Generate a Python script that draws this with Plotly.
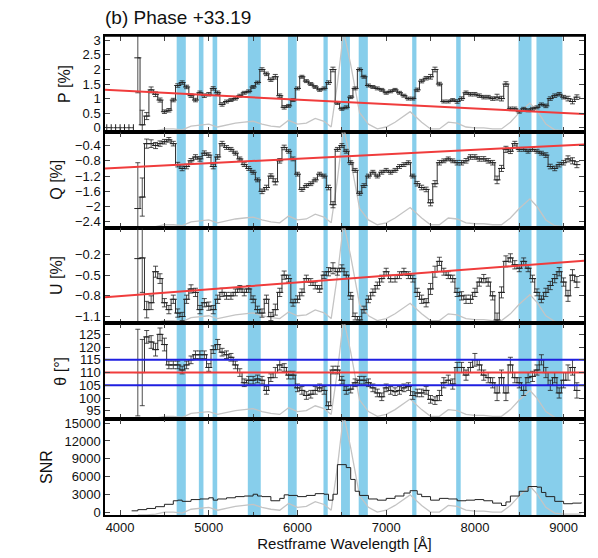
import plotly.graph_objects as go

WAVE = [4200,4250,4300,4350,4400,4450,4500,4550,4600,4650,4700,4750,4800,4850,4900,4950,
        5000,5050,5100,5150,5200,5250,5300,5350,5400,5450,5500,5550,5600,5650,5700,5750,
        5800,5850,5900,5950,6000,6050,6100,6150,6200,6250,6300,6350,6400,6450,6500,6550,
        6600,6650,6700,6750,6800,6850,6900,6950,7000,7050,7100,7150,7200,7250,7300,7350,
        7400,7450,7500,7550,7600,7650,7700,7750,7800,7850,7900,7950,8000,8050,8100,8150,
        8200,8250,8300,8350,8400,8450,8500,8550,8600,8650,8700,8750,8800,8850,8900,8950,
        9000,9050,9100,9150]
P = [2.4,0.1,0.4,1.3,1.15,0.95,0.55,0.6,0.95,1.45,1.55,1.4,1.1,0.95,1.2,1.1,
     1.15,1.35,1.2,0.8,0.9,0.95,1.0,1.1,1.2,1.25,1.4,1.55,2.0,1.85,1.65,1.75,
     1.1,0.7,0.75,0.95,1.35,1.75,1.6,1.5,1.4,1.3,1.35,1.55,2.0,0.85,0.65,0.7,
     1.05,1.35,2.0,1.75,1.45,1.4,1.35,1.3,1.2,1.25,1.3,1.2,1.1,1.0,1.0,1.3,
     1.6,1.7,1.75,2.0,1.5,0.9,0.9,0.95,0.9,1.0,1.2,1.15,1.15,1.1,1.05,1.05,
     1.0,1.05,1.0,1.5,0.65,0.65,0.55,0.65,0.6,0.65,0.7,0.8,0.75,1.0,1.1,1.15,
     1.05,1.0,0.9,1.05]
P_ZERO_WAVE = [3850,3900,3950,4000,4050,4100,4150]
P_ZERO = [0,0,0,0,0,0,0]
Q = [-2.05,-1.75,-0.35,-0.35,-0.4,-0.35,-0.3,-0.25,-0.35,-0.9,-1.0,-0.95,-0.8,-0.7,-0.75,-0.6,
     -0.65,-0.95,-0.7,-0.35,-0.45,-0.5,-0.6,-0.75,-0.9,-1.0,-1.1,-1.3,-1.6,-1.5,-1.2,-1.35,
     -0.8,-0.45,-0.55,-0.75,-1.15,-1.55,-1.45,-1.4,-1.3,-1.15,-1.2,-1.5,-1.95,-0.5,-0.4,-0.55,
     -0.85,-1.05,-1.65,-1.45,-1.2,-1.1,-1.2,-1.1,-1.05,-1.1,-1.05,-0.95,-0.9,-0.85,-1.2,-1.4,
     -1.5,-1.55,-1.9,-1.4,-0.85,-0.8,-0.75,-0.8,-0.85,-0.85,-0.8,-0.7,-0.7,-0.75,-0.75,-0.8,
     -0.85,-1.3,-1.0,-0.5,-0.55,-0.35,-0.5,-0.5,-0.55,-0.5,-0.55,-0.6,-0.65,-0.95,-1.0,-0.9,
     -0.85,-0.75,-0.8,-0.9]
U = [-0.26,-0.25,-1.0,-0.9,-0.45,-0.55,-0.9,-1.0,-0.85,-1.05,-1.1,-0.85,-0.7,-0.75,-1.0,-0.9,
     -0.95,-1.0,-0.85,-0.75,-0.8,-0.8,-0.75,-0.7,-0.75,-0.7,-0.85,-1.0,-1.05,-0.85,-1.1,-1.0,
     -0.75,-0.5,-0.55,-0.9,-0.85,-0.75,-0.55,-0.6,-0.65,-0.7,-0.5,-0.45,-0.4,-0.45,-0.4,-0.5,
     -0.8,-1.1,-1.15,-1.0,-0.85,-0.75,-0.65,-0.55,-0.45,-0.55,-0.55,-0.5,-0.45,-0.5,-0.55,-0.75,
     -0.85,-0.9,-0.7,-0.45,-0.3,-0.45,-0.5,-0.55,-0.75,-0.8,-0.85,-0.85,-0.75,-0.6,-0.55,-0.6,
     -0.8,-1.15,-0.75,-0.3,-0.25,-0.35,-0.4,-0.3,-0.4,-0.55,-0.75,-0.85,-0.75,-0.65,-0.55,-0.45,
     -0.6,-0.8,-0.5,-0.6]
ERR = [1.2,0.5,0.12,0.1,0.08,0.07,0.06,0.06,0.06,0.06,0.06,0.06,0.06,0.06,0.06,0.06,
       0.06,0.06,0.06,0.06,0.05,0.05,0.05,0.05,0.05,0.05,0.05,0.05,0.06,0.06,0.06,0.08,
       0.06,0.06,0.05,0.05,0.05,0.05,0.05,0.05,0.05,0.05,0.05,0.06,0.08,0.05,0.05,0.05,
       0.05,0.05,0.05,0.05,0.05,0.05,0.05,0.05,0.05,0.05,0.05,0.05,0.05,0.05,0.05,0.06,
       0.06,0.06,0.08,0.08,0.06,0.05,0.05,0.05,0.06,0.06,0.06,0.06,0.06,0.06,0.06,0.06,
       0.06,0.1,0.08,0.08,0.06,0.06,0.05,0.05,0.05,0.05,0.05,0.05,0.06,0.06,0.06,0.06,
       0.06,0.08,0.08,0.08]
THETA = [110,110,124,122,119,125,121,113,113,113,111,113,115,117,117,117,
         112,119,121,118,117,116,113,110,106,107,107,107.5,107,103,108,110,
         113,112,109,109,104,103,101,101.5,103,104,103,97,111,111,107,103,
         103.5,106,107,107,106,104,102,100.5,104,103,102.5,103,104,104.5,101,102,
         102,103,99.5,99,101,106,107,105.5,112,112,109,112,115,113,109,108,
         106,102,108,102,113,108,106,103,108,108.5,111,115,110,105,108,102,
         107,110,112,103]
THETA_ERR = [17,13,2.5,2.5,2.5,2.5,2.5,1.5,1.5,1.5,1.5,1.5,1.5,1.5,1.5,1.5,
             1.5,1.5,2,1.5,1.5,1.5,1.5,1.5,1.5,1.5,1.5,1.5,1.5,1.5,1.5,2,
             2,1.5,1.5,1.5,1.5,1.5,1.5,1.5,1.5,1.5,1.5,1.5,1.5,1.5,1.5,1.5,
             1.5,1.5,1.5,1.5,1.5,1.5,1.5,1.5,1.5,1.5,1.5,1.5,1.5,1.5,1.5,1.5,
             1.5,1.5,1.5,1.5,2,2,2,2,2,2,2,2,2.5,2,2,2,
             2,3,3,3,3,2,2,2,2,2,2,2,2,2,2,2,
             3,3,3,3]
SNR_WAVE = [4130,4200,4300,4400,4500,4600,4650,4700,4800,4900,5000,5050,5100,5200,5300,5400,
            5500,5550,5600,5700,5800,5850,5900,6000,6100,6200,6300,6350,6400,6450,6550,6600,
            6650,6700,6800,6900,7000,7100,7200,7270,7350,7400,7500,7600,7700,7800,7900,8000,
            8100,8200,8300,8350,8400,8500,8600,8700,8750,8800,8900,9000,9100,9200]
SNR = [200,400,600,900,1300,1900,2000,1800,2100,2200,2400,2000,2200,2400,2600,2700,
       3000,2700,2600,1900,2300,2900,2800,2600,2800,3100,3000,2000,3000,8000,7500,5500,
       3500,2800,2200,2000,2300,2700,3200,3600,3000,2600,2000,2300,2200,1900,2000,2100,
       1900,1500,1100,1700,2700,3500,4300,4200,3300,2600,1800,1400,1500,1600]
FLUX_WAVE = [4200,4300,4400,4500,4600,4700,4800,4900,5000,5100,5200,5300,5400,5500,5600,5700,
             5800,5900,6000,6100,6200,6300,6380,6450,6520,6600,6700,6800,6900,7000,7100,7200,
             7270,7400,7500,7600,7700,7800,7900,8000,8100,8200,8300,8400,8500,8620,8700,8800,
             8900,9000,9200]
FLUX = [0.0,0.0,0.01,0.03,0.03,0.02,0.06,0.07,0.08,0.05,0.07,0.09,0.1,0.11,0.08,0.06,
        0.05,0.12,0.08,0.09,0.14,0.11,0.05,0.5,1.05,0.7,0.2,0.08,0.03,0.05,0.1,0.17,
        0.21,0.1,0.03,0.03,0.1,0.09,0.05,0.04,0.04,0.03,0.03,0.1,0.2,0.3,0.22,0.08,
        0.02,0.01,0.01]
BANDS = [(4638,4741),(4888,4940),(5043,5095),(5440,5586),(5892,5991),(6293,6341),
         (6491,6591),(6690,6793),(7293,7341),(7789,7840),(8491,8638),(8694,8987)]
FIT_WAVE = [3830, 9230]
P_FIT = [1.3, 0.47]
Q_FIT = [-1.0, -0.37]
U_FIT = [-0.82, -0.29]
THETA_MEAN = [110, 110]
THETA_LO = [105, 105]
THETA_HI = [115, 115]

XR = [3830, 9230]
ranges = [[-0.14, 3.15], [-2.55, -0.04], [-1.2, 0.19], [91.7, 129.3], [-505, 15670]]
titles = ["P [%]", "Q [%]", "U [%]", "θ [°]", "SNR"]
tickvals = [[0,0.5,1,1.5,2,2.5,3], [-0.4,-0.8,-1.2,-1.6,-2,-2.4], [-0.2,-0.5,-0.8,-1.1],
            [95,100,105,110,115,120,125], [0,3000,6000,9000,12000,15000]]
ticktext = [["0","0.5","1","1.5","2","2.5","3"], ["−0.4","−0.8","−1.2","−1.6","−2","−2.4"],
            ["−0.2","−0.5","−0.8","−1.1"], [str(v) for v in tickvals[3]], [str(v) for v in tickvals[4]]]

fig = go.Figure()
n = 5
h = 1.0 / n
for i in range(n):
    ya = "y" if i == 0 else f"y{i+1}"
    lo, hi = ranges[i]
    fig.add_trace(go.Scatter(x=FLUX_WAVE, y=[lo + f*(hi-lo) for f in FLUX], mode="lines",
                             line=dict(color="#c4c4c4", width=1.3), xaxis="x", yaxis=ya, showlegend=False))

def add_series(y, err, ya):
    fig.add_trace(go.Scatter(x=WAVE, y=y, mode="lines", line=dict(color="#333", width=1, shape="hvh"),
                             xaxis="x", yaxis=ya, showlegend=False))
    fig.add_trace(go.Scatter(x=WAVE, y=y, mode="markers", marker=dict(size=5, symbol="line-ew", line=dict(color="#222", width=1)),
                             error_y=dict(type="data", array=err, color="#222", thickness=0.8, width=2.5),
                             xaxis="x", yaxis=ya, showlegend=False))

fig.add_trace(go.Scatter(x=P_ZERO_WAVE, y=P_ZERO, mode="lines+markers", line=dict(color="#333", width=1, shape="hvh"),
                         marker=dict(size=5, symbol="line-ns", line=dict(color="#222", width=1)), yaxis="y", showlegend=False))
add_series(P, ERR, "y")
add_series(Q, ERR, "y2")
add_series(U, ERR, "y3")
add_series(THETA, THETA_ERR, "y4")
fig.add_trace(go.Scatter(x=SNR_WAVE, y=SNR, mode="lines", line=dict(color="#222", width=1, shape="hv"),
                         yaxis="y5", showlegend=False))

red = "#f03c3c"
fig.add_trace(go.Scatter(x=FIT_WAVE, y=P_FIT, mode="lines", line=dict(color=red, width=2), yaxis="y", showlegend=False))
fig.add_trace(go.Scatter(x=FIT_WAVE, y=Q_FIT, mode="lines", line=dict(color=red, width=2), yaxis="y2", showlegend=False))
fig.add_trace(go.Scatter(x=FIT_WAVE, y=U_FIT, mode="lines", line=dict(color=red, width=2), yaxis="y3", showlegend=False))
fig.add_trace(go.Scatter(x=FIT_WAVE, y=THETA_MEAN, mode="lines", line=dict(color=red, width=2), yaxis="y4", showlegend=False))
for yy in (THETA_LO, THETA_HI):
    fig.add_trace(go.Scatter(x=FIT_WAVE, y=yy, mode="lines", line=dict(color="#1f1fe0", width=2), yaxis="y4", showlegend=False))

shapes = []
for a, b in BANDS:
    shapes.append(dict(type="rect", xref="x", yref="paper", x0=a, x1=b, y0=0, y1=1,
                       fillcolor="#87ceeb", line=dict(width=0), layer="below"))

layout = dict(
    width=598, height=558, paper_bgcolor="white", plot_bgcolor="rgba(0,0,0,0)",
    margin=dict(l=97, r=22, t=28, b=51),
    font=dict(family="Liberation Sans, Arial, sans-serif", color="#111", size=13),
    shapes=shapes,
    title=dict(text="(b) Phase +33.19", x=97/598, xanchor="left", y=0.995, yanchor="top",
               font=dict(size=19)),
    xaxis=dict(range=XR, domain=[0, 1], anchor="y5", tickvals=[4000,5000,6000,7000,8000,9000],
               ticks="inside", ticklen=5, mirror="allticks", showline=True, linecolor="black", linewidth=1.5,
               showgrid=False, zeroline=False,
               title=dict(text="Restframe Wavelength [Å]", font=dict(size=15), standoff=4),
               minor=dict(dtick=500, ticks="inside", ticklen=3, tick0=4000)),
)
for i in range(n):
    key = "yaxis" if i == 0 else f"yaxis{i+1}"
    top = round(1 - i*h, 6)
    bot = max(0.0, round(top - h, 6))
    layout[key] = dict(domain=[bot, top], range=ranges[i], anchor="x",
                       tickvals=tickvals[i], ticktext=ticktext[i], ticks="inside", ticklen=5,
                       mirror="ticks", showline=True, linecolor="black", linewidth=1.5,
                       showgrid=False, zeroline=False,
                       title=dict(text=titles[i], font=dict(size=16), standoff=8))
for i in range(1, n):
    top = round(1 - i*h, 6)
    shapes.append(dict(type="line", xref="paper", yref="paper", x0=0, x1=1, y0=top, y1=top,
                       line=dict(color="black", width=1.5)))
shapes.append(dict(type="line", xref="paper", yref="paper", x0=0, x1=1, y0=1, y1=1,
                   line=dict(color="black", width=1.5)))
fig.update_layout(**layout)
fig.write_html("out.html")
